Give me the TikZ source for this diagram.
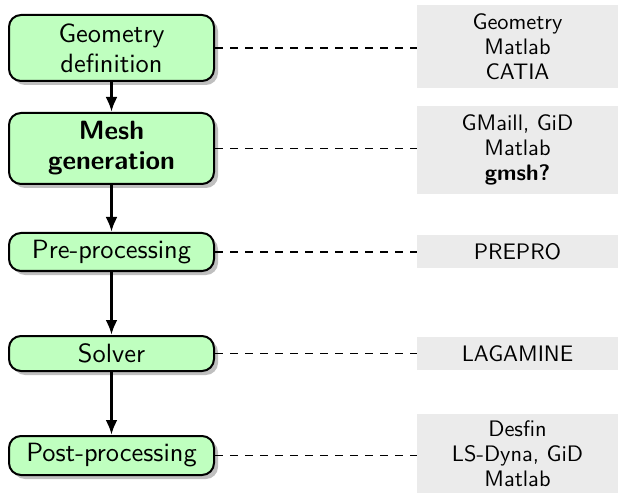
\documentclass[tikz,border=0pt]{standalone}
\usepackage{fontspec}
\setsansfont{lmsans10-regular.otf}[BoldFont=lmsans10-bold.otf]
\usetikzlibrary{arrows.meta,shadows}
\definecolor{stagegreen}{HTML}{BFFFBF}
\definecolor{toolgrey}{HTML}{EBEBEB}
\definecolor{shadowgrey}{HTML}{BFBFBF}
\begin{document}
\begin{tikzpicture}[x=1pt,y=-1pt,
  stage/.style={draw=black, line width=2pt, rounded corners=12pt, fill=stagegreen,
    minimum width=205pt, font=\sffamily\fontsize{26.4}{30}\selectfont, align=center, inner sep=0pt,
    drop shadow={shadow xshift=4pt, shadow yshift=-4pt, fill=shadowgrey, opacity=1}},
  tool/.style={fill=toolgrey, minimum width=201pt, font=\sffamily\fontsize{22.4}{25}\selectfont, align=center, inner sep=0pt},
  flow/.style={line width=3pt, -{Latex[length=15pt,width=12pt]}},
  link/.style={line width=1.8pt, dash pattern=on 8pt off 7pt}]
\useasboundingbox (0,0) rectangle (618,494);
% stages
\node[stage, minimum height=66pt] (geo) at (111.5,48) {Geometry\\definition};
\node[stage, minimum height=71pt] (mesh) at (111.5,148.5) {\bfseries Mesh\\\bfseries generation};
\node[stage, minimum height=38pt] (pre) at (111.5,252) {Pre-processing};
\node[stage, minimum height=35pt] (sol) at (111.5,353.5) {Solver};
\node[stage, minimum height=39pt] (post) at (111.5,455.5) {Post-processing};
% tools
\node[tool, minimum height=83pt] (t1) at (517.5,46.5) {Geometry\\Matlab\\CATIA};
\node[tool, minimum height=88pt] (t2) at (517.5,150) {GMaill, GiD\\Matlab\\\bfseries gmsh?};
\node[tool, minimum height=33pt] (t3) at (517.5,251.5) {PREPRO};
\node[tool, minimum height=33pt] (t4) at (517.5,353.5) {LAGAMINE};
\node[tool, minimum height=79pt] (t5) at (517.5,453.5) {Desfin\\LS-Dyna, GiD\\Matlab};
% flow
\draw[flow] (geo) -- (mesh);
\draw[flow] (mesh) -- (pre);
\draw[flow] (pre) -- (sol);
\draw[flow] (sol) -- (post);
% links
\draw[link] (geo.east) -- (geo.east -| t1.west);
\draw[link] (mesh.east) -- (mesh.east -| t2.west);
\draw[link] (pre.east) -- (pre.east -| t3.west);
\draw[link] (sol.east) -- (sol.east -| t4.west);
\draw[link] (post.east) -- (post.east -| t5.west);
\end{tikzpicture}
\end{document}
